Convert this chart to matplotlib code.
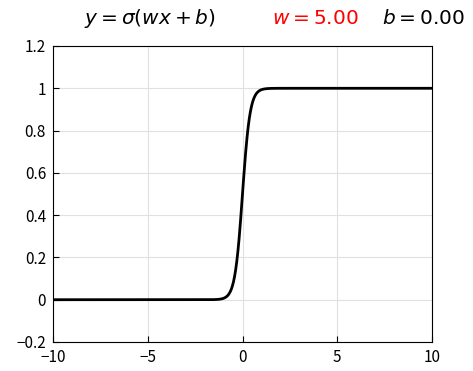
import numpy as np
import matplotlib.pyplot as plt

plt.rcParams['font.family'] = ['Noto Sans CJK JP', 'DejaVu Sans']
plt.rcParams['mathtext.fontset'] = 'dejavusans'

w = 5.0
b = 0.0
x_lim = [-10, 10]
y_lim = [-0.2, 1.2]
x_ticks = [-10, -5, 0, 5, 10]
y_ticks = [-0.2, 0, 0.2, 0.4, 0.6, 0.8, 1, 1.2]
y_labels = ['\u22120.2', '0', '0.2', '0.4', '0.6', '0.8', '1', '1.2']
x_labels = ['\u221210', '\u22125', '0', '5', '10']

x = np.linspace(x_lim[0], x_lim[1], 1001)
y = 1 / (1 + np.exp(-(w * x + b)))

fig = plt.figure(figsize=(4.73, 3.71), dpi=100)
ax = fig.add_axes([53 / 473, 29 / 371, 379 / 473, 296 / 371])
ax.plot(x, y, color='black', linewidth=2)
ax.set_xlim(x_lim)
ax.set_ylim(y_lim)
ax.set_xticks(x_ticks)
ax.set_xticklabels(x_labels)
ax.set_yticks(y_ticks)
ax.set_yticklabels(y_labels)
ax.grid(True, color='#e0e0e0', linewidth=0.8)
ax.tick_params(direction='in', length=4, labelsize=11, width=0.8)
ax.tick_params(axis='x', pad=5)
ax.tick_params(axis='y', pad=5)
for s in ax.spines.values():
    s.set_linewidth(0.8)

fig.text(84 / 473, 1 - 24 / 371, r'$y = \sigma(wx + b)$', fontsize=14.5, va='baseline')
fig.text(272 / 473, 1 - 24 / 371, r'$w = 5.00$', fontsize=14.5, color='red', va='baseline')
fig.text(382 / 473, 1 - 24 / 371, r'$b = 0.00$', fontsize=14.5, va='baseline')

fig.savefig('out.png', dpi=100)
